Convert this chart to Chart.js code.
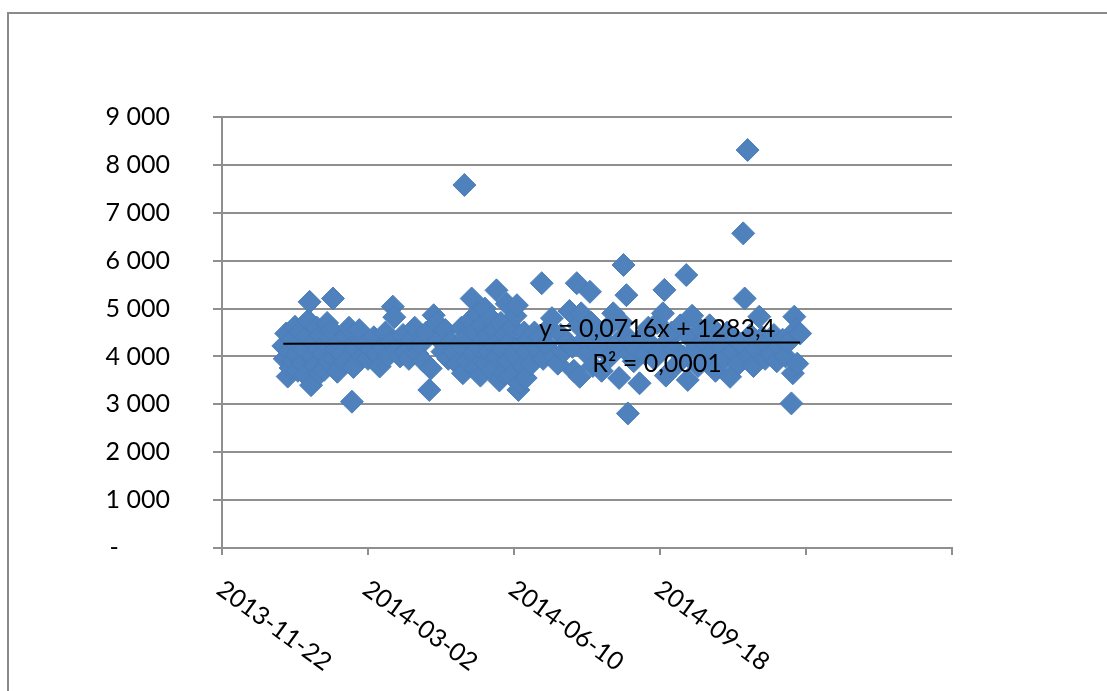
<!DOCTYPE html>
<html>
<head>
<meta charset="utf-8">
<script src="https://cdn.jsdelivr.net/npm/chart.js@4/dist/chart.umd.min.js"></script>
<style>
  html, body { margin: 0; padding: 0; background: #fff; overflow: hidden; }
  #frame { position: absolute; left: 7px; top: 12px; width: 1200px; height: 800px;
           border-left: 2px solid #8a8a8a; border-top: 2px solid #8a8a8a; }
  #wrap { position: absolute; left: 0; top: 0; width: 1107px; height: 691px; }
</style>
</head>
<body>
<div id="frame"></div>
<div id="wrap"><canvas id="scatterChart" width="1107" height="691"></canvas></div>
<script>
// days since 2013-11-22 (Excel serial 41600)
const START_SERIAL = 41600;
const dayOffsets = [
  42, 43, 44, 45, 46, 47, 48, 49, 50, 51,
  52, 53, 54, 55, 56, 57, 58, 59, 60, 61,
  62, 63, 64, 65, 66, 67, 68, 69, 70, 71,
  72, 73, 74, 75, 76, 77, 78, 79, 80, 82,
  84, 85, 87, 89, 90, 92, 94, 96, 98, 100,
  102, 104, 106, 108, 110, 112, 114, 116, 117, 118,
  120, 122, 124, 126, 128, 130, 132, 134, 136, 138,
  140, 142, 143, 145, 147, 149, 151, 153, 155, 157,
  159, 161, 163, 164, 165, 166, 167, 168, 170, 171,
  172, 173, 174, 175, 176, 177, 178, 179, 180, 181,
  182, 183, 184, 185, 186, 187, 188, 189, 190, 191,
  192, 193, 194, 195, 196, 197, 198, 199, 200, 201,
  202, 203, 204, 205, 206, 207, 208, 209, 210, 212,
  214, 216, 218, 219, 220, 222, 224, 226, 228, 230,
  232, 234, 236, 238, 240, 241, 243, 244, 245, 246,
  248, 250, 252, 253, 254, 256, 258, 260, 262, 264,
  266, 268, 270, 272, 274, 275, 276, 277, 278, 279,
  280, 282, 284, 286, 288, 290, 292, 294, 296, 298,
  300, 302, 303, 304, 306, 308, 310, 312, 314, 316,
  318, 319, 320, 322, 324, 326, 328, 330, 332, 334,
  336, 338, 340, 342, 344, 346, 348, 350, 352, 354,
  356, 357, 358, 360, 361, 362, 364, 366, 368, 370,
  372, 374, 376, 378, 380, 382, 384, 386, 388, 390,
  391, 392, 393, 394, 396
];
const values = [
  4220, 3950, 4480, 3580, 4100, 3760, 4350, 3900, 4620, 4050,
  3700, 4280, 4520, 3850, 4150, 3620, 4400, 4750, 5140, 3400,
  4000, 4300, 3800, 4600, 4150, 3650, 4450, 4050, 3720, 4250,
  4700, 3900, 4380, 4550, 5210, 3950, 4150, 3680, 4300, 4050,
  3880, 4420, 4600, 3055, 3780, 4180, 4550, 4000, 4250, 3950,
  4150, 4400, 4050, 3790, 4200, 4500, 4020, 4300, 5040, 4820,
  4150, 4000, 4450, 4100, 3950, 4350, 4600, 4050, 4250, 3900,
  4500, 3300, 3750, 4860, 4700, 4350, 4100, 4550, 3950, 4300,
  4100, 3850, 4250, 4600, 3650, 7580, 4400, 3900, 4750, 5210,
  4050, 4500, 3750, 4900, 4200, 3600, 4650, 4350, 5000, 3850,
  4450, 4100, 4800, 3700, 4250, 4550, 5380, 4000, 3500, 4700,
  4150, 3650, 4450, 5100, 3900, 4300, 3600, 4600, 4050, 4850,
  5070, 3300, 3450, 4250, 3800, 4500, 3550, 4100, 4350, 3850,
  4500, 4150, 4400, 5530, 3950, 4250, 4600, 4800, 4000, 3850,
  4450, 4100, 4300, 4950, 4200, 3700, 5530, 4650, 3575, 4900,
  4350, 4050, 5350, 4700, 3800, 4500, 4200, 3700, 4350, 4600,
  4000, 4900, 4250, 3550, 4700, 5910, 4450, 5280, 2810, 4050,
  4300, 3900, 4150, 3440, 4400, 4050, 4600, 4250, 3950, 4700,
  4100, 4900, 5390, 3600, 4350, 4500, 4150, 3850, 4650, 4000,
  5700, 3510, 4400, 4850, 4150, 3800, 4550, 4300, 3900, 4650,
  4100, 3700, 4450, 4200, 3950, 4500, 3575, 4100, 4350, 3850,
  4250, 6570, 5210, 8310, 4000, 4450, 3800, 4150, 4830, 4400,
  3950, 4250, 4050, 4450, 3900, 4200, 4350, 4000, 4300, 3020,
  3650, 4830, 4550, 3850, 4480
];
const tickDays = [0, 100, 200, 300];
const tickLabels = ["2013-11-22", "2014-03-02", "2014-06-10", "2014-09-18"];

// linear trend shown in the chart: y = 0,0716x + 1283,4
const slope = 0.0716;
const intercept = 1283.4;
const trendText = ["y = 0,0716x + 1283,4", "R\u00b2 = 0,0001"];

const FONT = "Lato, 'Open Sans', sans-serif";
const GRID = "#8f8f8f";

function trendAt(d) {
  return slope * (START_SERIAL + d) + intercept;
}

const points = dayOffsets.map((d, i) => ({ x: d, y: values[i] }));
const firstDay = dayOffsets[0];
const lastDay = dayOffsets[dayOffsets.length - 1];

const labelPlugin = {
  id: "excelLabels",
  afterDraw(chart) {
    const ctx = chart.ctx;
    const xs = chart.scales.x;
    const ys = chart.scales.y;
    ctx.save();
    ctx.fillStyle = "#000";
    ctx.font = "25px " + FONT;
    ctx.textAlign = "left";
    ctx.textBaseline = "top";
    tickLabels.forEach((lab, i) => {
      const px = xs.getPixelForValue(tickDays[i]);
      ctx.save();
      ctx.translate(px + 5, 576);
      ctx.rotate(36 * Math.PI / 180);
      ctx.fillText(lab, 0, 0);
      ctx.restore();
    });
    // trendline equation
    ctx.textAlign = "center";
    ctx.textBaseline = "middle";
    const cx = xs.getPixelForValue(298);
    const cy = ys.getPixelForValue(trendAt(298));
    ctx.fillText(trendText[0], cx, cy - 14);
    ctx.fillText(trendText[1], cx, cy + 21);
    ctx.restore();
  }
};

const ctx = document.getElementById("scatterChart").getContext("2d");
new Chart(ctx, {
  type: "scatter",
  data: {
    datasets: [
      {
        label: "Trend",
        data: [
          { x: firstDay, y: trendAt(firstDay) },
          { x: lastDay, y: trendAt(lastDay) }
        ],
        showLine: true,
        borderColor: "#000",
        borderWidth: 2,
        pointRadius: 0
      },
      {
        label: "Values",
        data: points,
        pointStyle: "rectRot",
        pointRadius: 11.5,
        backgroundColor: "#4F81BD",
        borderColor: "#4A7EBB",
        borderWidth: 1
      }
    ]
  },
  options: {
    responsive: false,
    devicePixelRatio: 1,
    animation: false,
    events: [],
    layout: { padding: { left: 0, top: 117, right: 155, bottom: 0 } },
    plugins: { legend: { display: false }, tooltip: { enabled: false } },
    scales: {
      x: {
        type: "linear",
        min: 0,
        max: 500,
        ticks: { stepSize: 100, display: false },
        grid: { drawOnChartArea: false, color: GRID, lineWidth: 2, tickLength: 7 },
        border: { color: GRID, width: 2 },
        afterFit(scale) { scale.height = 143; }
      },
      y: {
        min: 0,
        max: 9000,
        ticks: {
          stepSize: 1000,
          padding: 43,
          color: "#000",
          font: { family: FONT, size: 25 },
          callback: (v) => v === 0 ? "-        " : (v / 1000) + " 000"
        },
        grid: { color: GRID, lineWidth: 2, tickLength: 9 },
        border: { color: GRID, width: 2 },
        afterFit(scale) { scale.width = 222; }
      }
    }
  },
  plugins: [labelPlugin]
});
</script>
</body>
</html>
